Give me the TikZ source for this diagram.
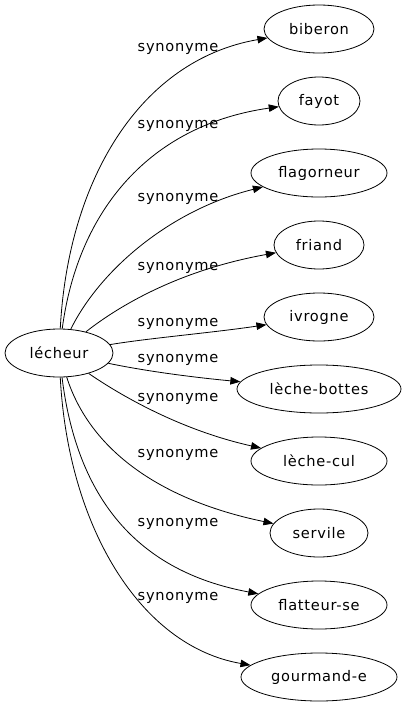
\documentclass[tikz,border=0pt]{standalone}
\usepackage{fontspec}
\setmainfont{DejaVu Sans}[LetterSpace=5]
\usetikzlibrary{shapes.geometric,arrows.meta}
\tikzset{
  word/.style={draw, ellipse, inner sep=0pt, minimum height=48pt, line width=0.8pt, font=\fontsize{14.6}{16}\selectfont},
  rel/.style={-{Triangle[length=10pt,width=7.5pt]}, line width=0.8pt},
  lab/.style={font=\fontsize{14.6}{16}\selectfont, inner sep=0pt, anchor=base}
}
\begin{document}
\begin{tikzpicture}[x=1pt,y=-1pt]
\useasboundingbox (0,0) rectangle (406,707);
\node[word, minimum width=108pt] (lec) at (59,353) {lécheur};
\node[word, minimum width=110pt] (bib) at (319,29) {biberon};
\node[word, minimum width=82pt] (fay) at (319,101) {fayot};
\node[word, minimum width=136pt] (fla) at (319,173) {flagorneur};
\node[word, minimum width=90pt] (fri) at (319,245) {friand};
\node[word, minimum width=110pt] (ivr) at (319,317) {ivrogne};
\node[word, minimum width=164pt] (lbo) at (319,389) {lèche-bottes};
\node[word, minimum width=136pt] (lcu) at (319,461) {lèche-cul};
\node[word, minimum width=98pt] (ser) at (319,533) {servile};
\node[word, minimum width=136pt] (flt) at (319,605) {flatteur-se};
\node[word, minimum width=156pt] (gou) at (319,677) {gourmand-e};

\draw[rel] (lec) .. controls (68,180) and (140,60) .. (bib);
\draw[rel] (lec) .. controls (78,210) and (150,125) .. (fay);
\draw[rel] (lec) .. controls (100,270) and (170,210) .. (fla);
\draw[rel] (lec) .. controls (120,305) and (180,270) .. (fri);
\draw[rel] (lec) .. controls (150,338) and (210,333) .. (ivr);
\draw[rel] (lec) .. controls (150,372) and (200,378) .. (lbo);
\draw[rel] (lec) .. controls (120,395) and (180,430) .. (lcu);
\draw[rel] (lec) .. controls (90,450) and (160,500) .. (ser);
\draw[rel] (lec) .. controls (76,490) and (130,570) .. (flt);
\draw[rel] (lec) .. controls (68,526) and (140,646) .. (gou);

\node[lab] (s1) at (178,51) {synonyme};
\node[lab] (s2) at (178,128) {synonyme};
\node[lab] (s3) at (178,201) {synonyme};
\node[lab] (s4) at (178,270) {synonyme};
\node[lab] (s5) at (178,326) {synonyme};
\node[lab] (s6) at (178,362) {synonyme};
\node[lab] (s7) at (178,401) {synonyme};
\node[lab] (s8) at (178,457) {synonyme};
\node[lab] (s9) at (178,526) {synonyme};
\node[lab] (s10) at (178,600) {synonyme};
\end{tikzpicture}
\end{document}
